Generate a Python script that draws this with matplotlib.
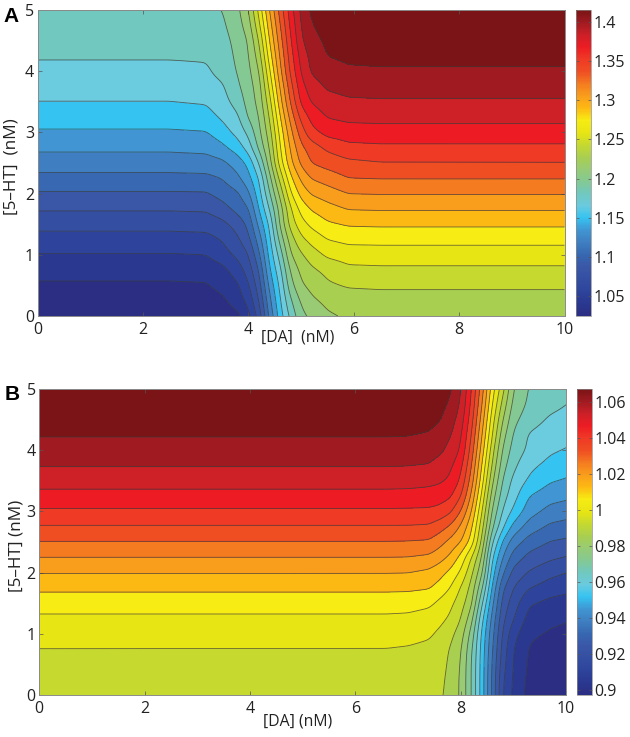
import numpy as np
import matplotlib
matplotlib.use("Agg")
import matplotlib.pyplot as plt
from matplotlib.colors import LinearSegmentedColormap, Normalize
from matplotlib.cm import ScalarMappable

plt.rcParams['font.family'] = ['Open Sans', 'DejaVu Sans']

W, H = 630, 737

# band colours, lowest to highest
band_colors = ['#2b2e83', '#2a3890', '#2e449c', '#344fa2', '#3a57a7', '#3768b1',
               '#3f7fc1', '#4095d2', '#35c3f1', '#6bcbdf', '#70c8be', '#84c994',
               '#98cb74', '#a9cf50', '#c6d92f', '#e8e514', '#f7ec13', '#fdb913',
               '#f99d1c', '#f47b20', '#ef4e23', '#ef3a25', '#ed1c24', '#cd2027',
               '#a01b21', '#7a1416']

# panel A: field, in contour-band units
a_low, a_step = 1.025, 0.015
a_x = [0, 2.5, 3.2, 3.5, 3.8, 4.0, 4.2, 4.4, 4.6, 4.8, 5.0, 5.2, 5.5, 5.9, 6.5, 10]
a_y = [5, 4.75, 4.5, 4.25, 4, 3.75, 3.5, 3.25, 3, 2.75, 2.5, 2.25, 2, 1.75, 1.5, 1.25, 1, 0.75, 0.5, 0.25, 0]
a_bands = [
    [10.9, 10.9, 10.92, 10.98, 11.78, 12.9, 15.25, 18.0, 20.35, 22.53, 24.23, 25.2, 25.6, 25.85, 25.9, 25.9],
    [10.65, 10.65, 10.65, 10.8, 11.6, 12.5, 14.7, 17.5, 19.93, 22.2, 24.05, 24.95, 25.4, 25.65, 25.7, 25.7],
    [10.4, 10.4, 10.4, 10.6, 11.35, 12.05, 14.0, 17.0, 19.5, 21.87, 23.83, 24.67, 25.2, 25.45, 25.5, 25.5],
    [10.1, 10.1, 10.12, 10.45, 11.22, 11.9, 13.46, 16.45, 19.08, 21.53, 23.4, 24.3, 25.02, 25.2, 25.25, 25.25],
    [9.73, 9.73, 9.85, 10.35, 11.07, 11.74, 12.9, 15.8, 18.67, 21.2, 23.1, 24.15, 24.6, 24.85, 24.9, 24.9],
    [9.38, 9.38, 9.55, 9.85, 10.85, 11.55, 12.5, 15.2, 18.08, 20.6, 22.65, 23.5, 24.15, 24.35, 24.4, 24.4],
    [9.0, 9.0, 9.1, 9.6, 10.43, 11.4, 12.3, 14.55, 17.55, 20.08, 22.2, 23.1, 23.6, 23.85, 23.9, 23.9],
    [8.45, 8.45, 8.6, 9.15, 9.85, 11.1, 11.95, 14.0, 16.9, 19.35, 21.3, 22.3, 23.05, 23.25, 23.3, 23.3],
    [7.88, 7.88, 7.95, 8.53, 9.35, 10.25, 11.7, 13.5, 16.3, 18.67, 20.5, 21.7, 22.35, 22.55, 22.6, 22.6],
    [7.2, 7.2, 7.3, 7.75, 8.5, 9.45, 11.2, 13.0, 15.9, 18.15, 19.75, 20.45, 21.2, 21.7, 21.8, 21.8],
    [6.5, 6.5, 6.55, 6.75, 7.45, 8.25, 10.0, 12.5, 15.45, 17.7, 19.2, 20.05, 20.4, 20.75, 20.95, 20.97],
    [5.7, 5.7, 5.75, 6.02, 6.8, 7.65, 9.0, 11.6, 14.3, 16.75, 18.2, 19.05, 19.45, 20.0, 20.05, 20.05],
    [4.88, 4.88, 4.9, 5.37, 5.85, 6.8, 8.55, 10.85, 13.25, 15.85, 17.35, 18.1, 18.5, 19.0, 19.05, 19.05],
    [4.1, 4.1, 4.15, 4.6, 5.35, 5.9, 8.0, 10.0, 12.4, 14.85, 16.35, 17.1, 17.6, 18.05, 18.1, 18.1],
    [3.33, 3.33, 3.4, 3.7, 4.4, 5.25, 7.25, 9.15, 12.1, 14.4, 15.6, 16.25, 16.85, 17.1, 17.15, 17.15],
    [2.6, 2.6, 2.65, 3.05, 3.85, 4.7, 6.45, 8.7, 11.3, 13.5, 14.75, 15.35, 16.0, 16.28, 16.3, 16.3],
    [1.93, 1.93, 2.0, 2.55, 3.25, 3.95, 5.75, 8.3, 10.4, 12.9, 13.85, 14.5, 15.2, 15.45, 15.5, 15.5],
    [1.35, 1.35, 1.4, 1.65, 2.5, 3.45, 5.0, 7.85, 9.7, 12.15, 13.25, 13.8, 14.25, 14.75, 14.8, 14.8],
    [0.85, 0.85, 0.9, 1.3, 1.85, 2.85, 4.5, 7.25, 9.2, 11.6, 12.85, 13.3, 13.85, 14.1, 14.15, 14.15],
    [0.55, 0.55, 0.58, 0.78, 1.5, 2.3, 3.95, 6.7, 8.85, 10.85, 12.15, 12.8, 13.25, 13.5, 13.6, 13.6],
    [0.3, 0.3, 0.3, 0.4, 0.75, 1.7, 3.4, 6.2, 8.5, 10.25, 11.7, 12.25, 12.85, 13.15, 13.2, 13.2],
]

# panel B
b_low, b_step = 0.897, 0.00654
b_x = [0, 6.6, 7.0, 7.4, 7.6, 7.8, 8.0, 8.2, 8.4, 8.6, 8.8, 9.0, 9.3, 9.7, 10]
b_y = a_y
b_bands = [
    [25.9, 25.9, 25.9, 25.9, 25.6, 25.15, 24.1, 22.08, 19.5, 16.46, 14.3, 12.0, 10.92, 10.55, 10.3],
    [25.65, 25.65, 25.65, 25.65, 25.35, 24.85, 23.9, 21.85, 19.1, 16.0, 13.65, 11.7, 10.8, 10.3, 10.02],
    [25.4, 25.4, 25.4, 25.35, 25.1, 24.45, 23.55, 21.5, 18.6, 15.45, 13.0, 11.3, 10.45, 9.85, 9.65],
    [25.08, 25.08, 25.05, 24.9, 24.5, 24.1, 23.2, 21.08, 18.1, 15.0, 12.4, 10.9, 9.9, 9.5, 9.3],
    [24.57, 24.57, 24.55, 24.45, 24.25, 23.7, 22.9, 20.65, 17.6, 14.4, 11.85, 10.6, 9.8, 9.15, 8.95],
    [24.06, 24.06, 24.03, 23.95, 23.55, 23.2, 22.35, 20.15, 17.0, 13.85, 11.4, 10.25, 9.25, 8.7, 8.45],
    [23.4, 23.4, 23.37, 23.25, 23.15, 22.85, 21.85, 19.6, 16.5, 13.2, 10.9, 9.75, 8.85, 8.1, 7.9],
    [22.67, 22.67, 22.65, 22.6, 22.45, 22.15, 21.1, 18.9, 15.8, 12.5, 10.45, 9.4, 8.0, 7.4, 7.22],
    [21.85, 21.85, 21.83, 21.8, 21.65, 21.2, 20.0, 18.1, 15.1, 11.85, 9.9, 8.8, 7.45, 6.65, 6.45],
    [20.92, 20.92, 20.92, 20.85, 20.45, 19.85, 18.85, 17.3, 14.45, 11.2, 9.2, 7.7, 6.55, 5.8, 5.62],
    [19.96, 19.96, 19.93, 19.85, 19.35, 18.7, 18.05, 16.65, 13.8, 10.1, 7.85, 6.5, 5.55, 4.95, 4.8],
    [19.0, 19.0, 18.98, 18.8, 18.4, 17.8, 16.7, 15.05, 13.0, 9.1, 7.0, 5.55, 4.7, 4.2, 3.97],
    [18.04, 18.03, 18.0, 17.75, 17.35, 16.75, 15.85, 14.3, 12.25, 8.5, 6.15, 4.7, 3.9, 3.3, 3.0],
    [17.2, 17.2, 17.18, 17.08, 16.62, 16.0, 14.93, 13.72, 11.25, 7.85, 5.15, 4.0, 3.05, 2.5, 2.3],
    [16.46, 16.46, 16.42, 16.2, 15.75, 15.25, 14.45, 13.3, 10.2, 7.25, 4.65, 3.5, 2.1, 1.7, 1.55],
    [15.8, 15.8, 15.75, 15.55, 15.3, 14.85, 14.05, 12.45, 9.35, 6.7, 4.25, 3.05, 1.65, 1.2, 1.08],
    [15.4, 15.4, 15.35, 15.15, 14.8, 14.3, 13.5, 11.7, 8.85, 6.35, 3.85, 2.4, 1.15, 0.9, 0.8],
    [14.98, 14.97, 14.9, 14.75, 14.5, 13.95, 13.15, 11.25, 8.65, 6.1, 3.6, 2.0, 0.93, 0.7, 0.62],
    [14.65, 14.65, 14.6, 14.52, 14.42, 13.8, 13.0, 11.05, 8.6, 5.9, 3.4, 1.95, 0.85, 0.6, 0.5],
    [14.4, 14.4, 14.38, 14.34, 14.28, 13.7, 12.9, 11.05, 8.55, 5.8, 3.1, 1.85, 0.75, 0.5, 0.4],
    [14.2, 14.2, 14.2, 14.2, 14.18, 13.65, 12.9, 11.05, 8.55, 5.8, 3.0, 1.8, 0.65, 0.4, 0.3],
]

a_cbar_ticks = [1.05, 1.1, 1.15, 1.2, 1.25, 1.3, 1.35, 1.4]
a_cbar_labels = ['1.05', '1.1', '1.15', '1.2', '1.25', '1.3', '1.35', '1.4']
b_cbar_ticks = [0.9, 0.92, 0.94, 0.96, 0.98, 1.0, 1.02, 1.04, 1.06]
b_cbar_labels = ['0.9', '0.92', '0.94', '0.96', '0.98', '1', '1.02', '1.04', '1.06']
x_ticks = [0, 2, 4, 6, 8, 10]
y_ticks = [0, 1, 2, 3, 4, 5]

cmap = LinearSegmentedColormap.from_list('bands', band_colors, N=256)
fig = plt.figure(figsize=(W / 100, H / 100), dpi=100, facecolor='white')


def box(l, r, t, b):
    return [l / W, 1 - b / H, (r - l) / W, (b - t) / H]


def soften(xs, ys, table):
    """Resample the read table and round its corners, as the smooth contours of the source."""
    fx = np.linspace(0, 10, 501)
    fy = np.linspace(0, 5, 501)
    t = np.array(table)[::-1]
    yy = np.array(ys)[::-1]
    rows = np.array([np.interp(fx, xs, r) for r in t])
    grid = np.array([np.interp(fy, yy, c) for c in rows.T]).T

    def blur(a, sigma, axis):
        r = int(3 * sigma)
        k = np.exp(-0.5 * (np.arange(-r, r + 1) / sigma) ** 2)
        k /= k.sum()
        pad = [(r, r) if i == axis else (0, 0) for i in range(2)]
        a = np.pad(a, pad, mode='reflect', reflect_type='odd')
        return np.apply_along_axis(lambda v: np.convolve(v, k, mode='valid'), axis, a)

    grid = blur(grid, 2.5, 1)
    grid = blur(grid, 7, 0)
    return fx, fy, grid


def panel(ax_box, cb_box, xs, ys, bands, low, step, ticks, labels, xlabel, ylabel,
          xlabel_xy, ylabel_xy, letter, letter_xy):
    ax = fig.add_axes(box(*ax_box))
    cax = fig.add_axes(box(*cb_box))
    n = len(band_colors)
    levels = low + step * np.arange(n + 1)
    fx, fy, grid = soften(xs, ys, bands)
    zz = low + step * np.clip(grid, 0.02, n - 0.02)
    ax.contourf(fx, fy, zz, levels=levels, colors=band_colors)
    ax.contour(fx, fy, zz, levels=levels[1:-1], colors='#3a3a3a', linewidths=0.6, alpha=0.75)
    ax.set_xlim(0, 10)
    ax.set_ylim(0, 5)
    ax.set_xticks(x_ticks)
    ax.set_yticks(y_ticks)
    ax.tick_params(direction='in', length=3, width=0.5, color='#555555', labelsize=11.5,
                   labelcolor='#222222', top=True, right=True, pad=2.5)
    ax.tick_params(axis='x', pad=4)
    for s in ax.spines.values():
        s.set_linewidth(0.7)
        s.set_color('#8a8a8a')
    sm = ScalarMappable(norm=Normalize(low, low + step * n), cmap=cmap)
    cb = fig.colorbar(sm, cax=cax)
    cb.set_ticks(ticks)
    cb.set_ticklabels(labels)
    cb.ax.tick_params(direction='in', length=2.5, width=0.5, color='#555555', labelsize=11.5,
                      labelcolor='#222222', pad=1.5, left=True, right=True)
    cb.outline.set_linewidth(0.5)
    cb.outline.set_edgecolor('#8a8a8a')
    fig.text(xlabel_xy[0] / W, 1 - xlabel_xy[1] / H, xlabel, ha='center', va='center',
             fontsize=11.3, color='#222222')
    fig.text(ylabel_xy[0] / W, 1 - ylabel_xy[1] / H, ylabel, ha='center', va='center',
             rotation=90, fontsize=12.3, color='#222222')
    fig.text(letter_xy[0] / W, 1 - letter_xy[1] / H, letter, ha='center', va='center',
             fontsize=15, fontweight='bold', color='black', family='Liberation Sans')


panel((37.5, 564.5, 10, 316), (575.7, 591, 10, 316), a_x, a_y, a_bands, a_low, a_step,
      a_cbar_ticks, a_cbar_labels, '[DA]  (nM)', '[5\u2013HT]  (nM)', (298, 337), (12, 167), 'A', (11, 17))
panel((39.3, 566, 389, 695), (577.3, 592.3, 389, 695), b_x, b_y, b_bands, b_low, b_step,
      b_cbar_ticks, b_cbar_labels, '[DA] (nM)', '[5\u2013HT] (nM)', (298, 722), (17, 546), 'B', (12, 395))

fig.savefig('out.png', dpi=100, facecolor='white')
